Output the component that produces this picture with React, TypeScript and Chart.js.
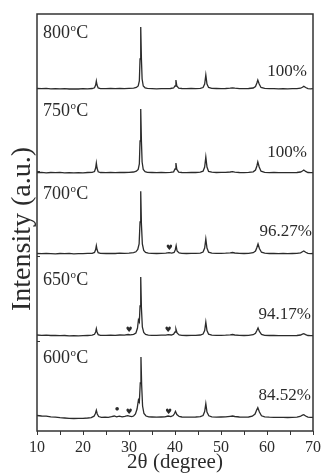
import React, { useEffect, useRef } from 'react';
import { Chart, registerables } from 'chart.js';

Chart.register(...registerables);

// ---- data ----
const TEMPERATURES = ['600', '650', '700', '750', '800'];
const PURITY = ['84.52%', '94.17%', '96.27%', '100%', '100%'];
// vertical stacking offset of each pattern (arbitrary intensity units)
const OFFSETS = [13, 95, 177, 258, 342];
const X_TICK_LABELS = [10, 20, 30, 40, 50, 60, 70];

const XRD_600: [number, number][] = [
  [10, 2.5], [11, 2], [12, 1.8], [13, 1.2], [14, 0.8], [15, 0.3], [16, 0], [17, -0.3], [18, -0.5], [19, -0.4], [20, -0.3],
  [21, 0], [21.8, 0.4], [22.4, 1.8], [22.7, 4.5], [22.9, 7.7], [23.1, 4], [23.4, 1.5], [24, 0.6], [24.8, 0.9], [25.5, 0.6],
  [26.2, 1.3], [26.8, 2], [27.3, 1.2], [27.9, 1.8], [28.5, 1.1], [29.1, 1.7], [29.7, 2.4], [30.1, 1.8], [30.6, 1.4], [31, 2],
  [31.4, 4], [31.75, 9], [32.05, 18], [32.25, 16], [32.45, 35], [32.6, 61], [32.75, 33], [32.95, 12], [33.25, 4.5], [33.7, 2],
  [34.3, 1.2], [35, 1], [36, 0.8], [37, 1], [37.8, 1.2], [38.5, 2], [39.1, 1.4], [39.6, 2.5], [39.9, 4.5], [40.1, 6.7],
  [40.4, 3.5], [40.9, 1.5], [41.5, 1], [42.5, 0.8], [43.5, 0.9], [44.5, 1], [45.5, 1.3], [46.1, 2.5], [46.45, 6.5], [46.7, 14.3],
  [46.95, 6], [47.35, 2.2], [48, 1.2], [49, 0.9], [50, 1], [51, 1.2], [52, 1.7], [52.5, 2], [53, 1.5], [54, 1], [55, 0.8],
  [56, 1], [56.8, 1.8], [57.4, 4], [57.75, 8], [58.0, 10.3], [58.35, 6], [58.8, 2.2], [59.5, 1.1], [60.5, 0.8], [61.5, 0.7],
  [62.5, 0.6], [63.5, 0.6], [64.5, 0.5], [65.5, 0.6], [66.5, 0.8], [67.2, 1.5], [67.7, 2.8], [68.0, 3.3], [68.4, 2], [68.9, 0.9],
  [69.5, 0.6], [70, 0.7],
];

const XRD_650: [number, number][] = [
  [10, 1], [11, 0.7], [12, 0.9], [13, 0.5], [14, 0.6], [15, 0.3], [16, 0.5], [17, 0.2], [18, 0.4], [19, 0.1], [20, 0.3],
  [21, 0.5], [22, 0.8], [22.5, 1.7], [22.75, 4], [22.9, 7.3], [23.05, 4], [23.3, 1.4], [23.8, 0.7], [25, 0.6], [26, 0.9],
  [27, 0.7], [28, 1], [29, 0.9], [29.8, 1.5], [30.3, 1.1], [31, 1.6], [31.5, 3], [31.85, 8], [32.05, 16], [32.25, 14],
  [32.4, 30], [32.55, 59], [32.7, 28], [32.9, 9], [33.2, 3.5], [33.6, 1.6], [34.2, 0.9], [35, 0.7], [36, 0.6], [37, 0.8],
  [38, 0.9], [38.5, 1.4], [39.2, 1], [39.7, 1.8], [40.0, 4], [40.2, 7], [40.45, 3], [40.9, 1.1], [41.5, 0.7], [42.5, 0.5],
  [43.5, 0.7], [44.5, 0.7], [45.5, 1], [46.1, 2], [46.45, 5.5], [46.7, 14], [46.95, 5.5], [47.3, 1.8], [48, 0.9], [49, 0.6],
  [50, 0.7], [51, 0.8], [52, 1.2], [52.5, 1.5], [53, 1], [54, 0.6], [55, 0.5], [56, 0.7], [57, 1.3], [57.5, 2.8], [57.8, 5.5],
  [58.05, 8], [58.35, 4.5], [58.8, 1.6], [59.5, 0.7], [60.5, 0.5], [61.5, 0.5], [62.5, 0.3], [63.5, 0.4], [64.5, 0.3],
  [65.5, 0.4], [66.5, 0.5], [67.3, 1], [67.7, 1.8], [68.0, 2.3], [68.4, 1.4], [68.9, 0.5], [69.5, 0.3], [70, 0.4],
];

const XRD_700: [number, number][] = [
  [10, 0.5], [11, 0.3], [12, 0.7], [13, 0.4], [14, 0.2], [15, 0.5], [16, 0.3], [17, 0.6], [18, 0.2], [19, 0.4], [20, 0.3],
  [21, 0.6], [22, 0.7], [22.5, 1.6], [22.75, 4.5], [22.9, 8.3], [23.05, 4.5], [23.3, 1.3], [23.8, 0.6], [25, 0.5], [26, 0.7],
  [27, 0.5], [28, 0.8], [29, 0.7], [30, 0.9], [31, 1.3], [31.5, 2.2], [31.9, 4.5], [32.2, 10], [32.4, 32], [32.55, 62.7],
  [32.7, 30], [32.9, 10], [33.2, 3.5], [33.6, 1.5], [34.2, 0.8], [35, 0.6], [36, 0.5], [37, 0.7], [38, 0.8], [38.7, 1.3],
  [39.3, 0.9], [39.8, 1.5], [40.05, 4], [40.25, 8.3], [40.45, 3], [40.9, 1], [41.5, 0.6], [42.5, 0.5], [43.5, 0.7],
  [44.5, 0.6], [45.5, 0.9], [46.1, 2], [46.45, 6], [46.7, 15], [46.95, 6], [47.3, 1.8], [48, 0.9], [49, 0.6], [50, 0.7],
  [51, 0.8], [52, 1.1], [52.5, 1.5], [53, 1], [54, 0.6], [55, 0.5], [56, 0.7], [57, 1.3], [57.5, 3], [57.8, 6.5], [58.05, 10],
  [58.35, 5.5], [58.8, 1.8], [59.5, 0.8], [60.5, 0.5], [61.5, 0.6], [62.5, 0.4], [63.5, 0.5], [64.5, 0.4], [65.5, 0.5],
  [66.5, 0.6], [67.3, 1.1], [67.7, 2.2], [68.0, 3], [68.4, 1.7], [68.9, 0.6], [69.5, 0.3], [70, 0.5],
];

const XRD_750: [number, number][] = [
  [10, 0.4], [11, 0.6], [12, 0.2], [13, 0.5], [14, 0.3], [15, 0.6], [16, 0.2], [17, 0.4], [18, 0.1], [19, 0.3], [20, 0.2],
  [21, 0.5], [22, 0.6], [22.5, 1.5], [22.75, 5], [22.9, 10], [23.05, 5], [23.3, 1.2], [23.8, 0.5], [25, 0.4], [26, 0.6],
  [27, 0.3], [28, 0.6], [29, 0.5], [30, 0.7], [31, 1], [31.6, 1.8], [32.0, 3.5], [32.25, 9], [32.4, 32], [32.55, 64],
  [32.7, 32], [32.85, 11], [33.1, 3.5], [33.5, 1.4], [34, 0.7], [35, 0.5], [36, 0.3], [37, 0.5], [38, 0.4], [39, 0.6],
  [39.7, 1.2], [40.0, 4], [40.2, 10], [40.4, 3.5], [40.8, 0.9], [41.5, 0.5], [42.5, 0.4], [43.5, 0.6], [44.5, 0.5],
  [45.5, 0.8], [46.1, 1.8], [46.45, 6], [46.7, 16], [46.95, 6], [47.3, 1.6], [48, 0.8], [49, 0.5], [50, 0.6], [51, 0.6],
  [52, 1], [52.5, 1.3], [53, 0.9], [54, 0.5], [55, 0.4], [56, 0.6], [57, 1.2], [57.5, 3], [57.8, 7], [58.0, 11], [58.3, 6],
  [58.7, 1.8], [59.5, 0.7], [60.5, 0.4], [61.5, 0.5], [62.5, 0.3], [63.5, 0.4], [64.5, 0.3], [65.5, 0.4], [66.5, 0.5],
  [67.3, 1], [67.7, 2], [68.0, 3], [68.4, 1.6], [68.9, 0.5], [69.5, 0.3], [70, 0.4],
];

const XRD_800: [number, number][] = [
  [10, 0.5], [11, 0.3], [12, 0.6], [13, 0.2], [14, 0.4], [15, 0.1], [16, 0.3], [17, 0], [18, 0.2], [19, 0], [20, 0.3],
  [21, 0.2], [22, 0.5], [22.5, 1.2], [22.75, 4], [22.9, 8], [23.05, 4], [23.3, 1], [23.8, 0.4], [25, 0.3], [26, 0.5],
  [27, 0.3], [28, 0.5], [29, 0.4], [30, 0.6], [31, 0.9], [31.6, 1.5], [32.0, 3], [32.25, 8], [32.4, 30], [32.55, 62],
  [32.7, 30], [32.85, 10], [33.1, 3], [33.5, 1.2], [34, 0.6], [35, 0.4], [36, 0.2], [37, 0.4], [38, 0.3], [39, 0.5],
  [39.7, 1], [40.0, 3], [40.2, 9], [40.4, 3], [40.8, 0.8], [41.5, 0.5], [42.5, 0.3], [43.5, 0.5], [44.5, 0.4], [45.5, 0.7],
  [46.1, 1.5], [46.45, 5], [46.7, 14], [46.95, 5], [47.3, 1.5], [48, 0.7], [49, 0.5], [50, 0.4], [51, 0.5], [52, 0.8],
  [52.5, 1.2], [53, 0.8], [54, 0.4], [55, 0.3], [56, 0.5], [57, 1], [57.5, 2.5], [57.8, 6], [58.0, 9], [58.3, 5], [58.7, 1.5],
  [59.5, 0.6], [60.5, 0.3], [61.5, 0.4], [62.5, 0.2], [63.5, 0.3], [64.5, 0.2], [65.5, 0.3], [66.5, 0.4], [67.3, 0.8],
  [67.7, 1.8], [68.0, 2.8], [68.4, 1.5], [68.9, 0.4], [69.5, 0.2], [70, 0.3],
];

const PATTERNS = [XRD_600, XRD_650, XRD_700, XRD_750, XRD_800];

// impurity markers (2θ, symbol) per pattern
const MARKERS_600: [number, string][] = [[27.4, '•'], [30.0, '♥'], [38.6, '♥']];
const MARKERS_650: [number, string][] = [[30.0, '♥'], [38.5, '♥']];
const MARKERS_700: [number, string][] = [[38.8, '♥']];
const MARKERS = [MARKERS_600, MARKERS_650, MARKERS_700, [], []] as [number, string][][];

// ---- layout (not data) ----
const TEMP_LABEL_RISE = [55, 51, 55, 57, 51];
const PCT_LABEL_RISE = [18, 17, 18, 16, 13];
const PCT_RIGHT = [311, 311, 312, 307, 307];
const Y_INNER_TICKS = [90, 175, 260];

const SERIF = "'Liberation Serif', 'Times New Roman', serif";
const INK = '#2b2b2b';

const annotations = {
  id: 'xrdAnnotations',
  afterDraw(chart: any) {
    const { ctx, chartArea, scales } = chart;
    const xs = scales.x;
    const ys = scales.y;
    ctx.save();
    // frame
    ctx.strokeStyle = '#333';
    ctx.lineWidth = 1.5;
    ctx.strokeRect(chartArea.left, chartArea.top, chartArea.right - chartArea.left, chartArea.bottom - chartArea.top);
    // small inward ticks on the left frame
    ctx.lineWidth = 1;
    Y_INNER_TICKS.forEach((v) => {
      const py = Math.round(ys.getPixelForValue(v)) + 0.5;
      ctx.beginPath();
      ctx.moveTo(chartArea.left, py);
      ctx.lineTo(chartArea.left + 3, py);
      ctx.stroke();
    });

    ctx.fillStyle = INK;
    TEMPERATURES.forEach((t, i) => {
      // temperature label with superscript o
      const by = ys.getPixelForValue(OFFSETS[i] + TEMP_LABEL_RISE[i]);
      let x = chartArea.left + 6;
      ctx.textAlign = 'left';
      ctx.textBaseline = 'alphabetic';
      ctx.font = `18px ${SERIF}`;
      ctx.fillText(t, x, by);
      x += ctx.measureText(t).width + 0.5;
      ctx.font = `11px ${SERIF}`;
      ctx.fillText('o', x, by - 7);
      x += ctx.measureText('o').width + 0.3;
      ctx.font = `18px ${SERIF}`;
      ctx.fillText('C', x, by);

      // purity label
      ctx.font = `17px ${SERIF}`;
      ctx.textAlign = 'right';
      ctx.fillText(PURITY[i], PCT_RIGHT[i], ys.getPixelForValue(OFFSETS[i] + PCT_LABEL_RISE[i]));

      // impurity markers
      MARKERS[i].forEach(([pos, sym]) => {
        const px = xs.getPixelForValue(pos);
        const py = ys.getPixelForValue(OFFSETS[i] + 6);
        ctx.textAlign = 'center';
        ctx.textBaseline = 'middle';
        ctx.font = sym === '♥' ? `7.5px 'DejaVu Sans', sans-serif` : `15px ${SERIF}`;
        ctx.fillText(sym, px, sym === '♥' ? py : py - 1.5);
      });
    });

    // axis titles
    ctx.textAlign = 'center';
    ctx.textBaseline = 'alphabetic';
    ctx.font = `21px ${SERIF}`;
    ctx.fillText('2θ (degree)', (chartArea.left + chartArea.right) / 2, 468);
    ctx.save();
    ctx.translate(30, 229);
    ctx.rotate(-Math.PI / 2);
    ctx.font = `28px ${SERIF}`;
    ctx.fillText('Intensity (a.u.)', 0, 0);
    ctx.restore();

    ctx.restore();
  },
};

export default function App() {
  const ref = useRef<HTMLCanvasElement | null>(null);

  useEffect(() => {
    document.body.style.margin = '0';
    const canvas = ref.current;
    if (!canvas) return;
    const datasets = PATTERNS.map((p, i) => ({
      label: TEMPERATURES[i],
      data: p.map(([x, y]) => ({ x, y: y + OFFSETS[i] })),
      borderColor: INK,
      borderWidth: 1.3,
      pointRadius: 0,
      tension: 0,
      fill: false,
    }));
    const chart = new Chart(canvas, {
      type: 'line',
      data: { datasets },
      options: {
        animation: false,
        responsive: false,
        devicePixelRatio: 1,
        layout: { padding: { left: 37, right: 9, top: 14, bottom: 0 } },
        plugins: { legend: { display: false }, tooltip: { enabled: false }, title: { display: false } },
        scales: {
          x: {
            type: 'linear',
            min: 10,
            max: 70,
            border: { display: false },
            grid: { drawOnChartArea: false, drawTicks: true, tickLength: 4, color: '#333', lineWidth: 1 },
            ticks: {
              stepSize: 5,
              autoSkip: false,
              maxRotation: 0,
              padding: 3,
              color: INK,
              font: { family: SERIF, size: 16 },
              callback: (v: any) => (X_TICK_LABELS.includes(Number(v)) ? String(v) : ''),
            },
            afterFit: (s: any) => {
              s.height = 44;
            },
          },
          y: {
            type: 'linear',
            min: 0,
            max: 417,
            display: false,
          },
        },
      },
      plugins: [annotations],
    });
    return () => chart.destroy();
  }, []);

  return (
    <div style={{ width: 324, height: 475 }}>
      <canvas ref={ref} width={324} height={475} />
    </div>
  );
}
